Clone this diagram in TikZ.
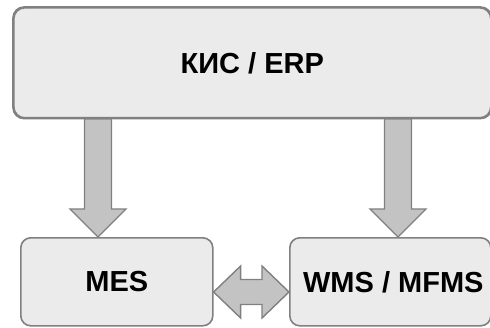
\documentclass[tikz,border=0pt]{standalone}
\usepackage{fontspec}
\setmainfont{Liberation Sans}
\usetikzlibrary{calc}
\definecolor{boxfill}{HTML}{EBEBEB}
\definecolor{boxline}{HTML}{808080}
\definecolor{arrowfill}{HTML}{C3C3C3}
\tikzset{
  sysbox/.style={draw=boxline, fill=boxfill, line width=1.6pt, rounded corners=11pt,
    inner sep=0pt, anchor=north west, font=\fontsize{29}{34}\selectfont\bfseries},
  fatarrow/.style={draw=boxline, fill=arrowfill, line width=1.4pt, line join=miter}
}
\begin{document}
\begin{tikzpicture}[x=1pt,y=1pt]
\useasboundingbox (0,0) rectangle (490,327);
% boxes
\node[sysbox, minimum width=477pt, minimum height=110pt] (erp) at (13,320) {КИС / ERP};
\node[sysbox, minimum width=192pt, minimum height=88pt, rounded corners=10pt] (mes) at (20,90) {MES};
\node[sysbox, minimum width=201pt, minimum height=88pt, rounded corners=10pt] (wms) at (289,90) {\hspace*{6pt}WMS / MFMS};
% down arrows (from erp to mes / wms)
\coordinate (l1) at (erp.south -| 98,0);
\coordinate (l2) at (mes.north -| 98,0);
\coordinate (r1) at (erp.south -| 398,0);
\coordinate (r2) at (wms.north -| 398,0);
\draw[fatarrow] ($(l1)+(-13.5,0)$) -- ($(l1)+(13.5,0)$) -- ($(l2)+(13.5,28)$) -- ($(l2)+(28,28)$)
  -- (l2) -- ($(l2)+(-28,28)$) -- ($(l2)+(-13.5,28)$) -- cycle;
\draw[fatarrow] ($(r1)+(-13.5,0)$) -- ($(r1)+(13.5,0)$) -- ($(r2)+(13.5,28)$) -- ($(r2)+(28,28)$)
  -- (r2) -- ($(r2)+(-28,28)$) -- ($(r2)+(-13.5,28)$) -- cycle;
% double arrow between mes and wms
\coordinate (d1) at (mes.east |- 0,35);
\coordinate (d2) at (wms.west |- 0,35);
\draw[fatarrow] (d1) -- ($(d1)+(27,26)$) -- ($(d1)+(27,12.5)$) -- ($(d2)+(-27,12.5)$)
  -- ($(d2)+(-27,26)$) -- (d2) -- ($(d2)+(-27,-26)$) -- ($(d2)+(-27,-12.5)$)
  -- ($(d1)+(27,-12.5)$) -- ($(d1)+(27,-26)$) -- cycle;
% redraw box border on top of arrow ends
\draw[draw=boxline, line width=1.6pt, rounded corners=11pt] (erp.south west) rectangle (erp.north east);
\end{tikzpicture}
\end{document}
